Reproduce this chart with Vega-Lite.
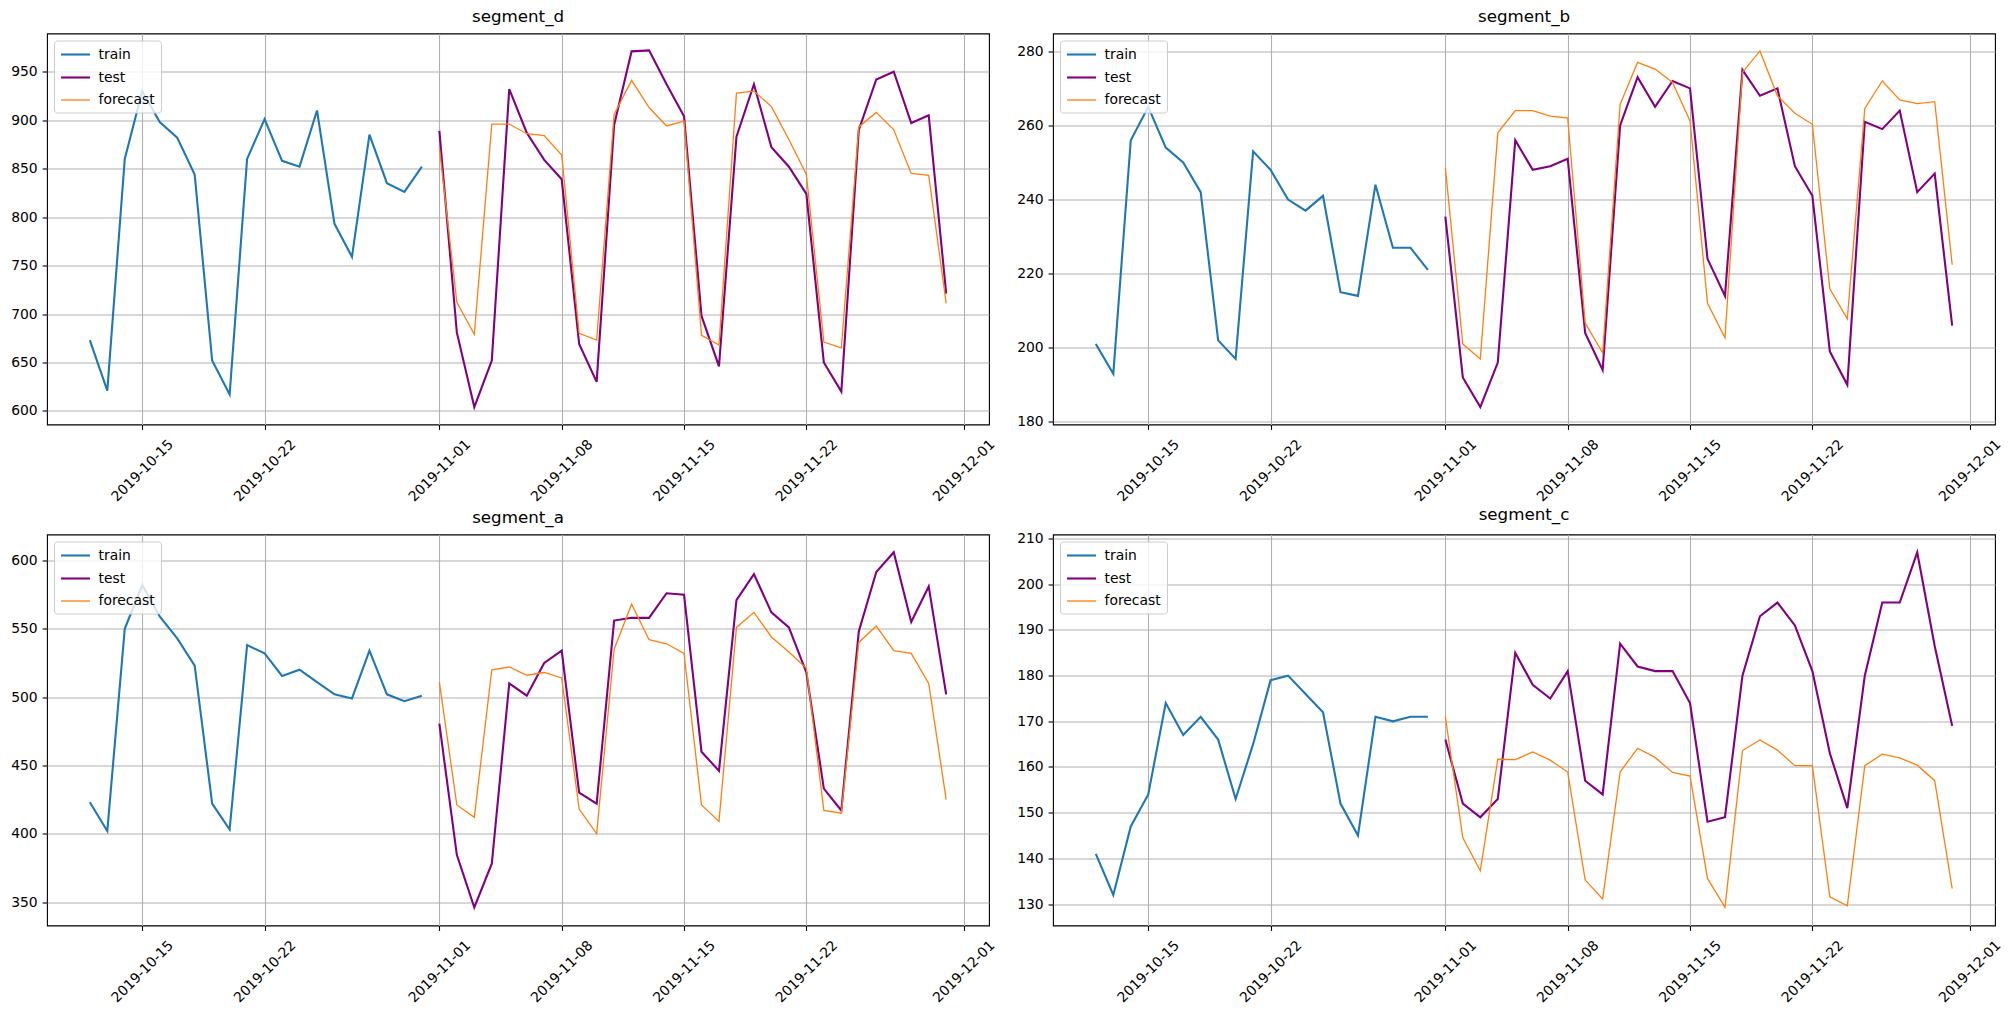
{
"$schema": "https://vega.github.io/schema/vega-lite/v6.json",
"padding": {"left": 10, "top": 7.5, "right": 5, "bottom": 5},
"background": "white",
"data": {"values": [
{"s":"d","k":"train","t":"2019-10-12","v":673},{"s":"d","k":"train","t":"2019-10-13","v":621},{"s":"d","k":"train","t":"2019-10-14","v":860},{"s":"d","k":"train","t":"2019-10-15","v":930},{"s":"d","k":"train","t":"2019-10-16","v":898},{"s":"d","k":"train","t":"2019-10-17","v":882},{"s":"d","k":"train","t":"2019-10-18","v":844},{"s":"d","k":"train","t":"2019-10-19","v":652},{"s":"d","k":"train","t":"2019-10-20","v":617},{"s":"d","k":"train","t":"2019-10-21","v":860},{"s":"d","k":"train","t":"2019-10-22","v":901},{"s":"d","k":"train","t":"2019-10-23","v":858},{"s":"d","k":"train","t":"2019-10-24","v":852},{"s":"d","k":"train","t":"2019-10-25","v":910},{"s":"d","k":"train","t":"2019-10-26","v":793},{"s":"d","k":"train","t":"2019-10-27","v":759},{"s":"d","k":"train","t":"2019-10-28","v":885},{"s":"d","k":"train","t":"2019-10-29","v":835},{"s":"d","k":"train","t":"2019-10-30","v":826},{"s":"d","k":"train","t":"2019-10-31","v":852},
{"s":"d","k":"test","t":"2019-11-01","v":889},{"s":"d","k":"test","t":"2019-11-02","v":681},{"s":"d","k":"test","t":"2019-11-03","v":604},{"s":"d","k":"test","t":"2019-11-04","v":652},{"s":"d","k":"test","t":"2019-11-05","v":932},{"s":"d","k":"test","t":"2019-11-06","v":887},{"s":"d","k":"test","t":"2019-11-07","v":859},{"s":"d","k":"test","t":"2019-11-08","v":839},{"s":"d","k":"test","t":"2019-11-09","v":669},{"s":"d","k":"test","t":"2019-11-10","v":630},{"s":"d","k":"test","t":"2019-11-11","v":895},{"s":"d","k":"test","t":"2019-11-12","v":971},{"s":"d","k":"test","t":"2019-11-13","v":972},{"s":"d","k":"test","t":"2019-11-14","v":937},{"s":"d","k":"test","t":"2019-11-15","v":904},{"s":"d","k":"test","t":"2019-11-16","v":698},{"s":"d","k":"test","t":"2019-11-17","v":646},{"s":"d","k":"test","t":"2019-11-18","v":883},{"s":"d","k":"test","t":"2019-11-19","v":937},{"s":"d","k":"test","t":"2019-11-20","v":872},{"s":"d","k":"test","t":"2019-11-21","v":852},{"s":"d","k":"test","t":"2019-11-22","v":824},{"s":"d","k":"test","t":"2019-11-23","v":650},{"s":"d","k":"test","t":"2019-11-24","v":620},{"s":"d","k":"test","t":"2019-11-25","v":890},{"s":"d","k":"test","t":"2019-11-26","v":942},{"s":"d","k":"test","t":"2019-11-27","v":950},{"s":"d","k":"test","t":"2019-11-28","v":897},{"s":"d","k":"test","t":"2019-11-29","v":905},{"s":"d","k":"test","t":"2019-11-30","v":721},
{"s":"d","k":"forecast","t":"2019-11-01","v":872},{"s":"d","k":"forecast","t":"2019-11-02","v":712},{"s":"d","k":"forecast","t":"2019-11-03","v":679},{"s":"d","k":"forecast","t":"2019-11-04","v":896},{"s":"d","k":"forecast","t":"2019-11-05","v":896},{"s":"d","k":"forecast","t":"2019-11-06","v":886},{"s":"d","k":"forecast","t":"2019-11-07","v":884},{"s":"d","k":"forecast","t":"2019-11-08","v":864},{"s":"d","k":"forecast","t":"2019-11-09","v":680},{"s":"d","k":"forecast","t":"2019-11-10","v":673},{"s":"d","k":"forecast","t":"2019-11-11","v":906},{"s":"d","k":"forecast","t":"2019-11-12","v":941},{"s":"d","k":"forecast","t":"2019-11-13","v":913},{"s":"d","k":"forecast","t":"2019-11-14","v":894},{"s":"d","k":"forecast","t":"2019-11-15","v":899},{"s":"d","k":"forecast","t":"2019-11-16","v":678},{"s":"d","k":"forecast","t":"2019-11-17","v":668},{"s":"d","k":"forecast","t":"2019-11-18","v":928},{"s":"d","k":"forecast","t":"2019-11-19","v":930},{"s":"d","k":"forecast","t":"2019-11-20","v":914},{"s":"d","k":"forecast","t":"2019-11-21","v":880},{"s":"d","k":"forecast","t":"2019-11-22","v":844},{"s":"d","k":"forecast","t":"2019-11-23","v":671},{"s":"d","k":"forecast","t":"2019-11-24","v":665},{"s":"d","k":"forecast","t":"2019-11-25","v":893},{"s":"d","k":"forecast","t":"2019-11-26","v":908},{"s":"d","k":"forecast","t":"2019-11-27","v":890},{"s":"d","k":"forecast","t":"2019-11-28","v":845},{"s":"d","k":"forecast","t":"2019-11-29","v":843},{"s":"d","k":"forecast","t":"2019-11-30","v":711},
{"s":"b","k":"train","t":"2019-10-12","v":201},{"s":"b","k":"train","t":"2019-10-13","v":193},{"s":"b","k":"train","t":"2019-10-14","v":256},{"s":"b","k":"train","t":"2019-10-15","v":265},{"s":"b","k":"train","t":"2019-10-16","v":254},{"s":"b","k":"train","t":"2019-10-17","v":250},{"s":"b","k":"train","t":"2019-10-18","v":242},{"s":"b","k":"train","t":"2019-10-19","v":202},{"s":"b","k":"train","t":"2019-10-20","v":197},{"s":"b","k":"train","t":"2019-10-21","v":253},{"s":"b","k":"train","t":"2019-10-22","v":248},{"s":"b","k":"train","t":"2019-10-23","v":240},{"s":"b","k":"train","t":"2019-10-24","v":237},{"s":"b","k":"train","t":"2019-10-25","v":241},{"s":"b","k":"train","t":"2019-10-26","v":215},{"s":"b","k":"train","t":"2019-10-27","v":214},{"s":"b","k":"train","t":"2019-10-28","v":244},{"s":"b","k":"train","t":"2019-10-29","v":227},{"s":"b","k":"train","t":"2019-10-30","v":227},{"s":"b","k":"train","t":"2019-10-31","v":221},
{"s":"b","k":"test","t":"2019-11-01","v":235.4},{"s":"b","k":"test","t":"2019-11-02","v":192},{"s":"b","k":"test","t":"2019-11-03","v":184},{"s":"b","k":"test","t":"2019-11-04","v":196},{"s":"b","k":"test","t":"2019-11-05","v":256},{"s":"b","k":"test","t":"2019-11-06","v":248},{"s":"b","k":"test","t":"2019-11-07","v":249},{"s":"b","k":"test","t":"2019-11-08","v":251},{"s":"b","k":"test","t":"2019-11-09","v":204},{"s":"b","k":"test","t":"2019-11-10","v":194},{"s":"b","k":"test","t":"2019-11-11","v":260},{"s":"b","k":"test","t":"2019-11-12","v":273},{"s":"b","k":"test","t":"2019-11-13","v":265},{"s":"b","k":"test","t":"2019-11-14","v":272},{"s":"b","k":"test","t":"2019-11-15","v":270},{"s":"b","k":"test","t":"2019-11-16","v":224},{"s":"b","k":"test","t":"2019-11-17","v":214},{"s":"b","k":"test","t":"2019-11-18","v":275},{"s":"b","k":"test","t":"2019-11-19","v":268},{"s":"b","k":"test","t":"2019-11-20","v":270},{"s":"b","k":"test","t":"2019-11-21","v":249},{"s":"b","k":"test","t":"2019-11-22","v":241},{"s":"b","k":"test","t":"2019-11-23","v":199},{"s":"b","k":"test","t":"2019-11-24","v":190},{"s":"b","k":"test","t":"2019-11-25","v":261},{"s":"b","k":"test","t":"2019-11-26","v":259},{"s":"b","k":"test","t":"2019-11-27","v":264},{"s":"b","k":"test","t":"2019-11-28","v":242},{"s":"b","k":"test","t":"2019-11-29","v":247},{"s":"b","k":"test","t":"2019-11-30","v":206},
{"s":"b","k":"forecast","t":"2019-11-01","v":248.6},{"s":"b","k":"forecast","t":"2019-11-02","v":201},{"s":"b","k":"forecast","t":"2019-11-03","v":197},{"s":"b","k":"forecast","t":"2019-11-04","v":258},{"s":"b","k":"forecast","t":"2019-11-05","v":264},{"s":"b","k":"forecast","t":"2019-11-06","v":264},{"s":"b","k":"forecast","t":"2019-11-07","v":262.5},{"s":"b","k":"forecast","t":"2019-11-08","v":262},{"s":"b","k":"forecast","t":"2019-11-09","v":206.7},{"s":"b","k":"forecast","t":"2019-11-10","v":198.6},{"s":"b","k":"forecast","t":"2019-11-11","v":265.7},{"s":"b","k":"forecast","t":"2019-11-12","v":277},{"s":"b","k":"forecast","t":"2019-11-13","v":275.2},{"s":"b","k":"forecast","t":"2019-11-14","v":271.6},{"s":"b","k":"forecast","t":"2019-11-15","v":261.2},{"s":"b","k":"forecast","t":"2019-11-16","v":212},{"s":"b","k":"forecast","t":"2019-11-17","v":202.7},{"s":"b","k":"forecast","t":"2019-11-18","v":274.3},{"s":"b","k":"forecast","t":"2019-11-19","v":280.1},{"s":"b","k":"forecast","t":"2019-11-20","v":268},{"s":"b","k":"forecast","t":"2019-11-21","v":263.3},{"s":"b","k":"forecast","t":"2019-11-22","v":260.3},{"s":"b","k":"forecast","t":"2019-11-23","v":215.9},{"s":"b","k":"forecast","t":"2019-11-24","v":207.8},{"s":"b","k":"forecast","t":"2019-11-25","v":264.6},{"s":"b","k":"forecast","t":"2019-11-26","v":272},{"s":"b","k":"forecast","t":"2019-11-27","v":266.9},{"s":"b","k":"forecast","t":"2019-11-28","v":265.9},{"s":"b","k":"forecast","t":"2019-11-29","v":266.4},{"s":"b","k":"forecast","t":"2019-11-30","v":222.4},
{"s":"a","k":"train","t":"2019-10-12","v":423},{"s":"a","k":"train","t":"2019-10-13","v":402},{"s":"a","k":"train","t":"2019-10-14","v":550},{"s":"a","k":"train","t":"2019-10-15","v":582},{"s":"a","k":"train","t":"2019-10-16","v":559},{"s":"a","k":"train","t":"2019-10-17","v":543},{"s":"a","k":"train","t":"2019-10-18","v":523},{"s":"a","k":"train","t":"2019-10-19","v":422},{"s":"a","k":"train","t":"2019-10-20","v":403},{"s":"a","k":"train","t":"2019-10-21","v":538},{"s":"a","k":"train","t":"2019-10-22","v":532},{"s":"a","k":"train","t":"2019-10-23","v":515.5},{"s":"a","k":"train","t":"2019-10-24","v":520},{"s":"a","k":"train","t":"2019-10-25","v":511},{"s":"a","k":"train","t":"2019-10-26","v":502},{"s":"a","k":"train","t":"2019-10-27","v":499},{"s":"a","k":"train","t":"2019-10-28","v":534},{"s":"a","k":"train","t":"2019-10-29","v":502},{"s":"a","k":"train","t":"2019-10-30","v":497},{"s":"a","k":"train","t":"2019-10-31","v":501},
{"s":"a","k":"test","t":"2019-11-01","v":480.5},{"s":"a","k":"test","t":"2019-11-02","v":384.5},{"s":"a","k":"test","t":"2019-11-03","v":346},{"s":"a","k":"test","t":"2019-11-04","v":378},{"s":"a","k":"test","t":"2019-11-05","v":510},{"s":"a","k":"test","t":"2019-11-06","v":501},{"s":"a","k":"test","t":"2019-11-07","v":525},{"s":"a","k":"test","t":"2019-11-08","v":534},{"s":"a","k":"test","t":"2019-11-09","v":430},{"s":"a","k":"test","t":"2019-11-10","v":422},{"s":"a","k":"test","t":"2019-11-11","v":556},{"s":"a","k":"test","t":"2019-11-12","v":558},{"s":"a","k":"test","t":"2019-11-13","v":558},{"s":"a","k":"test","t":"2019-11-14","v":576},{"s":"a","k":"test","t":"2019-11-15","v":575},{"s":"a","k":"test","t":"2019-11-16","v":460},{"s":"a","k":"test","t":"2019-11-17","v":446},{"s":"a","k":"test","t":"2019-11-18","v":571},{"s":"a","k":"test","t":"2019-11-19","v":590},{"s":"a","k":"test","t":"2019-11-20","v":562},{"s":"a","k":"test","t":"2019-11-21","v":551},{"s":"a","k":"test","t":"2019-11-22","v":518},{"s":"a","k":"test","t":"2019-11-23","v":433},{"s":"a","k":"test","t":"2019-11-24","v":417},{"s":"a","k":"test","t":"2019-11-25","v":548},{"s":"a","k":"test","t":"2019-11-26","v":591.5},{"s":"a","k":"test","t":"2019-11-27","v":606},{"s":"a","k":"test","t":"2019-11-28","v":555},{"s":"a","k":"test","t":"2019-11-29","v":581},{"s":"a","k":"test","t":"2019-11-30","v":502},
{"s":"a","k":"forecast","t":"2019-11-01","v":511},{"s":"a","k":"forecast","t":"2019-11-02","v":421},{"s":"a","k":"forecast","t":"2019-11-03","v":412},{"s":"a","k":"forecast","t":"2019-11-04","v":520},{"s":"a","k":"forecast","t":"2019-11-05","v":522},{"s":"a","k":"forecast","t":"2019-11-06","v":516},{"s":"a","k":"forecast","t":"2019-11-07","v":518},{"s":"a","k":"forecast","t":"2019-11-08","v":514},{"s":"a","k":"forecast","t":"2019-11-09","v":418},{"s":"a","k":"forecast","t":"2019-11-10","v":400},{"s":"a","k":"forecast","t":"2019-11-11","v":535},{"s":"a","k":"forecast","t":"2019-11-12","v":568},{"s":"a","k":"forecast","t":"2019-11-13","v":542},{"s":"a","k":"forecast","t":"2019-11-14","v":539},{"s":"a","k":"forecast","t":"2019-11-15","v":532},{"s":"a","k":"forecast","t":"2019-11-16","v":421},{"s":"a","k":"forecast","t":"2019-11-17","v":409},{"s":"a","k":"forecast","t":"2019-11-18","v":551},{"s":"a","k":"forecast","t":"2019-11-19","v":562},{"s":"a","k":"forecast","t":"2019-11-20","v":544},{"s":"a","k":"forecast","t":"2019-11-21","v":533},{"s":"a","k":"forecast","t":"2019-11-22","v":521},{"s":"a","k":"forecast","t":"2019-11-23","v":417},{"s":"a","k":"forecast","t":"2019-11-24","v":415},{"s":"a","k":"forecast","t":"2019-11-25","v":540},{"s":"a","k":"forecast","t":"2019-11-26","v":552},{"s":"a","k":"forecast","t":"2019-11-27","v":534},{"s":"a","k":"forecast","t":"2019-11-28","v":532},{"s":"a","k":"forecast","t":"2019-11-29","v":510},{"s":"a","k":"forecast","t":"2019-11-30","v":425},
{"s":"c","k":"train","t":"2019-10-12","v":141},{"s":"c","k":"train","t":"2019-10-13","v":132},{"s":"c","k":"train","t":"2019-10-14","v":147},{"s":"c","k":"train","t":"2019-10-15","v":154},{"s":"c","k":"train","t":"2019-10-16","v":174},{"s":"c","k":"train","t":"2019-10-17","v":167},{"s":"c","k":"train","t":"2019-10-18","v":171},{"s":"c","k":"train","t":"2019-10-19","v":166},{"s":"c","k":"train","t":"2019-10-20","v":153},{"s":"c","k":"train","t":"2019-10-21","v":165},{"s":"c","k":"train","t":"2019-10-22","v":179},{"s":"c","k":"train","t":"2019-10-23","v":180},{"s":"c","k":"train","t":"2019-10-24","v":176},{"s":"c","k":"train","t":"2019-10-25","v":172},{"s":"c","k":"train","t":"2019-10-26","v":152},{"s":"c","k":"train","t":"2019-10-27","v":145},{"s":"c","k":"train","t":"2019-10-28","v":171},{"s":"c","k":"train","t":"2019-10-29","v":170},{"s":"c","k":"train","t":"2019-10-30","v":171},{"s":"c","k":"train","t":"2019-10-31","v":171},
{"s":"c","k":"test","t":"2019-11-01","v":166},{"s":"c","k":"test","t":"2019-11-02","v":152},{"s":"c","k":"test","t":"2019-11-03","v":149},{"s":"c","k":"test","t":"2019-11-04","v":153},{"s":"c","k":"test","t":"2019-11-05","v":185},{"s":"c","k":"test","t":"2019-11-06","v":178},{"s":"c","k":"test","t":"2019-11-07","v":175},{"s":"c","k":"test","t":"2019-11-08","v":181},{"s":"c","k":"test","t":"2019-11-09","v":157},{"s":"c","k":"test","t":"2019-11-10","v":154},{"s":"c","k":"test","t":"2019-11-11","v":187},{"s":"c","k":"test","t":"2019-11-12","v":182},{"s":"c","k":"test","t":"2019-11-13","v":181},{"s":"c","k":"test","t":"2019-11-14","v":181},{"s":"c","k":"test","t":"2019-11-15","v":174},{"s":"c","k":"test","t":"2019-11-16","v":148},{"s":"c","k":"test","t":"2019-11-17","v":149},{"s":"c","k":"test","t":"2019-11-18","v":180},{"s":"c","k":"test","t":"2019-11-19","v":193},{"s":"c","k":"test","t":"2019-11-20","v":196},{"s":"c","k":"test","t":"2019-11-21","v":191},{"s":"c","k":"test","t":"2019-11-22","v":181},{"s":"c","k":"test","t":"2019-11-23","v":163},{"s":"c","k":"test","t":"2019-11-24","v":151},{"s":"c","k":"test","t":"2019-11-25","v":180},{"s":"c","k":"test","t":"2019-11-26","v":196},{"s":"c","k":"test","t":"2019-11-27","v":196},{"s":"c","k":"test","t":"2019-11-28","v":207},{"s":"c","k":"test","t":"2019-11-29","v":186.5},{"s":"c","k":"test","t":"2019-11-30","v":169},
{"s":"c","k":"forecast","t":"2019-11-01","v":171},{"s":"c","k":"forecast","t":"2019-11-02","v":144.5},{"s":"c","k":"forecast","t":"2019-11-03","v":137.3},{"s":"c","k":"forecast","t":"2019-11-04","v":161.7},{"s":"c","k":"forecast","t":"2019-11-05","v":161.6},{"s":"c","k":"forecast","t":"2019-11-06","v":163.3},{"s":"c","k":"forecast","t":"2019-11-07","v":161.5},{"s":"c","k":"forecast","t":"2019-11-08","v":158.9},{"s":"c","k":"forecast","t":"2019-11-09","v":135.3},{"s":"c","k":"forecast","t":"2019-11-10","v":131.1},{"s":"c","k":"forecast","t":"2019-11-11","v":158.9},{"s":"c","k":"forecast","t":"2019-11-12","v":164.1},{"s":"c","k":"forecast","t":"2019-11-13","v":162.1},{"s":"c","k":"forecast","t":"2019-11-14","v":158.8},{"s":"c","k":"forecast","t":"2019-11-15","v":158},{"s":"c","k":"forecast","t":"2019-11-16","v":135.6},{"s":"c","k":"forecast","t":"2019-11-17","v":129.3},{"s":"c","k":"forecast","t":"2019-11-18","v":163.6},{"s":"c","k":"forecast","t":"2019-11-19","v":165.9},{"s":"c","k":"forecast","t":"2019-11-20","v":163.7},{"s":"c","k":"forecast","t":"2019-11-21","v":160.3},{"s":"c","k":"forecast","t":"2019-11-22","v":160.3},{"s":"c","k":"forecast","t":"2019-11-23","v":131.6},{"s":"c","k":"forecast","t":"2019-11-24","v":129.6},{"s":"c","k":"forecast","t":"2019-11-25","v":160.3},{"s":"c","k":"forecast","t":"2019-11-26","v":162.8},{"s":"c","k":"forecast","t":"2019-11-27","v":162},{"s":"c","k":"forecast","t":"2019-11-28","v":160.4},{"s":"c","k":"forecast","t":"2019-11-29","v":157},{"s":"c","k":"forecast","t":"2019-11-30","v":133.4}
]},
"columns": 2,
"spacing": {"row": 110, "column": 64},
"bounds": "flush",
"resolve": {"scale": {"x": "independent", "y": "independent", "color": "independent", "strokeWidth": "independent"}, "legend": {"color": "independent", "strokeWidth": "independent"}},
"concat": [
{"title": "segment_d", "width": 942, "height": 391,
 "transform": [{"filter": "datum.s === 'd'"}],
 "mark": {"type": "line"},
 "encoding": {
  "x": {"field": "t", "type": "temporal", "scale": {"type": "utc", "domain": [{"year": 2019, "month": 10, "date": 9, "hours": 13, "minutes": 12, "utc": true}, {"year": 2019, "month": 12, "date": 2, "hours": 10, "minutes": 48, "utc": true}]}, "axis": {"title": null, "format": "%Y-%m-%d", "values": [{"year": 2019, "month": 10, "date": 15, "utc": true}, {"year": 2019, "month": 10, "date": 22, "utc": true}, {"year": 2019, "month": 11, "date": 1, "utc": true}, {"year": 2019, "month": 11, "date": 8, "utc": true}, {"year": 2019, "month": 11, "date": 15, "utc": true}, {"year": 2019, "month": 11, "date": 22, "utc": true}, {"year": 2019, "month": 12, "date": 1, "utc": true}]}},
  "y": {"field": "v", "type": "quantitative", "scale": {"domain": [586, 989.4], "nice": false, "zero": false}, "axis": {"title": null, "values": [600, 650, 700, 750, 800, 850, 900, 950]}},
  "color": {"field": "k", "type": "nominal", "scale": {"domain": ["train", "test", "forecast"], "range": ["#1f77b4", "#800080", "#ff7f0e"]}, "legend": {"title": null, "orient": "top-left", "offset": 7, "symbolType": "M-1,0H3.14", "symbolSize": 196, "labelFont": "DejaVu Sans", "labelFontSize": 13.9, "labelColor": "black", "labelOffset": 22, "rowPadding": 7, "padding": 5.5, "strokeColor": "#cccccc", "fillColor": "rgba(255,255,255,0.8)", "cornerRadius": 3}},
  "strokeWidth": {"field": "k", "type": "nominal", "scale": {"type": "ordinal", "domain": ["train", "test", "forecast"], "range": [2.1, 2.1, 1.3]}, "legend": {"title": null, "orient": "top-left", "offset": 7, "symbolType": "M-1,0H3.14", "symbolSize": 196, "labelFont": "DejaVu Sans", "labelFontSize": 13.9, "labelColor": "black", "labelOffset": 22, "rowPadding": 7, "padding": 5.5, "strokeColor": "#cccccc", "fillColor": "rgba(255,255,255,0.8)", "cornerRadius": 3}}
 }},
{"title": "segment_b", "width": 942, "height": 391,
 "transform": [{"filter": "datum.s === 'b'"}],
 "mark": {"type": "line"},
 "encoding": {
  "x": {"field": "t", "type": "temporal", "scale": {"type": "utc", "domain": [{"year": 2019, "month": 10, "date": 9, "hours": 13, "minutes": 12, "utc": true}, {"year": 2019, "month": 12, "date": 2, "hours": 10, "minutes": 48, "utc": true}]}, "axis": {"title": null, "format": "%Y-%m-%d", "values": [{"year": 2019, "month": 10, "date": 15, "utc": true}, {"year": 2019, "month": 10, "date": 22, "utc": true}, {"year": 2019, "month": 11, "date": 1, "utc": true}, {"year": 2019, "month": 11, "date": 8, "utc": true}, {"year": 2019, "month": 11, "date": 15, "utc": true}, {"year": 2019, "month": 11, "date": 22, "utc": true}, {"year": 2019, "month": 12, "date": 1, "utc": true}]}},
  "y": {"field": "v", "type": "quantitative", "scale": {"domain": [179.3, 284.8], "nice": false, "zero": false}, "axis": {"title": null, "values": [180, 200, 220, 240, 260, 280]}},
  "color": {"field": "k", "type": "nominal", "scale": {"domain": ["train", "test", "forecast"], "range": ["#1f77b4", "#800080", "#ff7f0e"]}, "legend": {"title": null, "orient": "top-left", "offset": 7, "symbolType": "M-1,0H3.14", "symbolSize": 196, "labelFont": "DejaVu Sans", "labelFontSize": 13.9, "labelColor": "black", "labelOffset": 22, "rowPadding": 7, "padding": 5.5, "strokeColor": "#cccccc", "fillColor": "rgba(255,255,255,0.8)", "cornerRadius": 3}},
  "strokeWidth": {"field": "k", "type": "nominal", "scale": {"type": "ordinal", "domain": ["train", "test", "forecast"], "range": [2.1, 2.1, 1.3]}, "legend": {"title": null, "orient": "top-left", "offset": 7, "symbolType": "M-1,0H3.14", "symbolSize": 196, "labelFont": "DejaVu Sans", "labelFontSize": 13.9, "labelColor": "black", "labelOffset": 22, "rowPadding": 7, "padding": 5.5, "strokeColor": "#cccccc", "fillColor": "rgba(255,255,255,0.8)", "cornerRadius": 3}}
 }},
{"title": "segment_a", "width": 942, "height": 391,
 "transform": [{"filter": "datum.s === 'a'"}],
 "mark": {"type": "line"},
 "encoding": {
  "x": {"field": "t", "type": "temporal", "scale": {"type": "utc", "domain": [{"year": 2019, "month": 10, "date": 9, "hours": 13, "minutes": 12, "utc": true}, {"year": 2019, "month": 12, "date": 2, "hours": 10, "minutes": 48, "utc": true}]}, "axis": {"title": null, "format": "%Y-%m-%d", "values": [{"year": 2019, "month": 10, "date": 15, "utc": true}, {"year": 2019, "month": 10, "date": 22, "utc": true}, {"year": 2019, "month": 11, "date": 1, "utc": true}, {"year": 2019, "month": 11, "date": 8, "utc": true}, {"year": 2019, "month": 11, "date": 15, "utc": true}, {"year": 2019, "month": 11, "date": 22, "utc": true}, {"year": 2019, "month": 12, "date": 1, "utc": true}]}},
  "y": {"field": "v", "type": "quantitative", "scale": {"domain": [332.8, 619], "nice": false, "zero": false}, "axis": {"title": null, "values": [350, 400, 450, 500, 550, 600]}},
  "color": {"field": "k", "type": "nominal", "scale": {"domain": ["train", "test", "forecast"], "range": ["#1f77b4", "#800080", "#ff7f0e"]}, "legend": {"title": null, "orient": "top-left", "offset": 7, "symbolType": "M-1,0H3.14", "symbolSize": 196, "labelFont": "DejaVu Sans", "labelFontSize": 13.9, "labelColor": "black", "labelOffset": 22, "rowPadding": 7, "padding": 5.5, "strokeColor": "#cccccc", "fillColor": "rgba(255,255,255,0.8)", "cornerRadius": 3}},
  "strokeWidth": {"field": "k", "type": "nominal", "scale": {"type": "ordinal", "domain": ["train", "test", "forecast"], "range": [2.1, 2.1, 1.3]}, "legend": {"title": null, "orient": "top-left", "offset": 7, "symbolType": "M-1,0H3.14", "symbolSize": 196, "labelFont": "DejaVu Sans", "labelFontSize": 13.9, "labelColor": "black", "labelOffset": 22, "rowPadding": 7, "padding": 5.5, "strokeColor": "#cccccc", "fillColor": "rgba(255,255,255,0.8)", "cornerRadius": 3}}
 }},
{"title": "segment_c", "width": 942, "height": 391,
 "transform": [{"filter": "datum.s === 'c'"}],
 "mark": {"type": "line"},
 "encoding": {
  "x": {"field": "t", "type": "temporal", "scale": {"type": "utc", "domain": [{"year": 2019, "month": 10, "date": 9, "hours": 13, "minutes": 12, "utc": true}, {"year": 2019, "month": 12, "date": 2, "hours": 10, "minutes": 48, "utc": true}]}, "axis": {"title": null, "format": "%Y-%m-%d", "values": [{"year": 2019, "month": 10, "date": 15, "utc": true}, {"year": 2019, "month": 10, "date": 22, "utc": true}, {"year": 2019, "month": 11, "date": 1, "utc": true}, {"year": 2019, "month": 11, "date": 8, "utc": true}, {"year": 2019, "month": 11, "date": 15, "utc": true}, {"year": 2019, "month": 11, "date": 22, "utc": true}, {"year": 2019, "month": 12, "date": 1, "utc": true}]}},
  "y": {"field": "v", "type": "quantitative", "scale": {"domain": [125.3, 210.9], "nice": false, "zero": false}, "axis": {"title": null, "values": [130, 140, 150, 160, 170, 180, 190, 200, 210]}},
  "color": {"field": "k", "type": "nominal", "scale": {"domain": ["train", "test", "forecast"], "range": ["#1f77b4", "#800080", "#ff7f0e"]}, "legend": {"title": null, "orient": "top-left", "offset": 7, "symbolType": "M-1,0H3.14", "symbolSize": 196, "labelFont": "DejaVu Sans", "labelFontSize": 13.9, "labelColor": "black", "labelOffset": 22, "rowPadding": 7, "padding": 5.5, "strokeColor": "#cccccc", "fillColor": "rgba(255,255,255,0.8)", "cornerRadius": 3}},
  "strokeWidth": {"field": "k", "type": "nominal", "scale": {"type": "ordinal", "domain": ["train", "test", "forecast"], "range": [2.1, 2.1, 1.3]}, "legend": {"title": null, "orient": "top-left", "offset": 7, "symbolType": "M-1,0H3.14", "symbolSize": 196, "labelFont": "DejaVu Sans", "labelFontSize": 13.9, "labelColor": "black", "labelOffset": 22, "rowPadding": 7, "padding": 5.5, "strokeColor": "#cccccc", "fillColor": "rgba(255,255,255,0.8)", "cornerRadius": 3}}
 }}
],
"config": {
 "font": "DejaVu Sans",
 "view": {"stroke": "black", "strokeWidth": 1.1},
 "axis": {"domain": false, "grid": true, "gridColor": "#b0b0b0", "gridWidth": 1.1, "tickColor": "black", "tickWidth": 1.1, "tickSize": 4.9, "labelFont": "DejaVu Sans", "labelFontSize": 13.9, "labelColor": "black", "labelPadding": 4.9},
 "axisX": {"labelAngle": -45, "labelAlign": "center", "labelBaseline": "middle", "labelPadding": 41, "labelOverlap": false, "labelFlush": false},
 "axisY": {"labelOverlap": false, "labelFlush": false},
 "legend": {"orient": "top-left", "offset": 7, "symbolType": "M-1,0H3.14", "symbolSize": 196, "labelFont": "DejaVu Sans", "labelFontSize": 13.9, "labelColor": "black", "labelOffset": 22, "rowPadding": 7, "padding": 5.5, "strokeColor": "#cccccc", "fillColor": "rgba(255,255,255,0.8)", "cornerRadius": 3},
 "title": {"font": "DejaVu Sans", "fontSize": 16.7, "fontWeight": "normal", "color": "black", "offset": 8.3, "baseline": "alphabetic", "anchor": "middle"}
}
}
